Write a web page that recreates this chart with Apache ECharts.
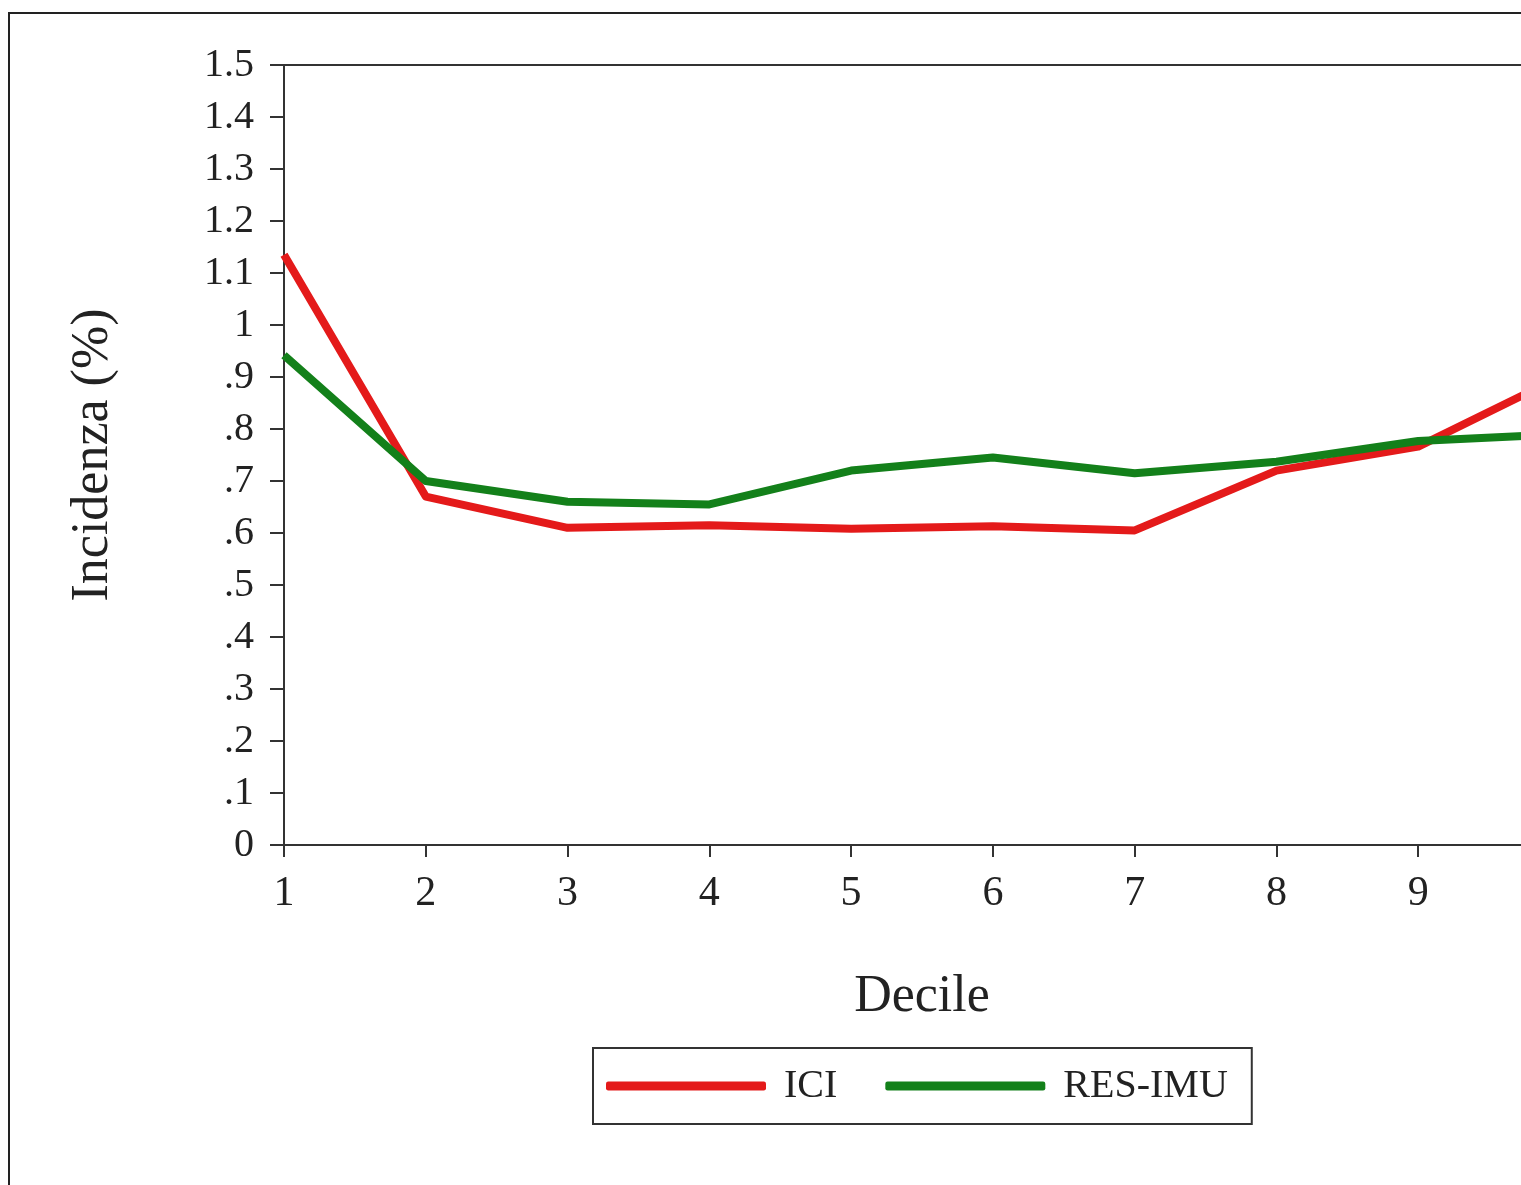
<!DOCTYPE html>
<html>
<head>
<meta charset="utf-8">
<script src="https://cdn.jsdelivr.net/npm/echarts@6/dist/echarts.min.js"></script>
<style>
html, body { margin: 0; padding: 0; background: #fff; overflow: hidden; }
#chart { width: 1600px; height: 1185px; }
</style>
</head>
<body>
<div id="chart"></div>
<script>
var deciles = [1, 2, 3, 4, 5, 6, 7, 8, 9, 10];
var ici = [1.135, 0.67, 0.61, 0.615, 0.608, 0.613, 0.605, 0.72, 0.766, 0.90];
var resImu = [0.942, 0.70, 0.66, 0.655, 0.72, 0.745, 0.715, 0.737, 0.777, 0.79];

var font = 'Liberation Serif';
var ink = '#222';

function pairs(ys) {
	return deciles.map(function (d, i) { return [d, ys[i]]; });
}

function yLabel(v) {
	var r = Math.round(v * 10) / 10;
	if (r === 0) return '0';
	if (r === 1) return '1';
	if (r < 1) return '.' + Math.round(r * 10);
	return r.toFixed(1);
}

// the plot runs past the window's right edge, as in the cropped original
var chart = echarts.init(document.getElementById('chart'));
var option = {
	backgroundColor: '#fff',
	animation: false,
	graphic: [{
		type: 'rect',
		shape: { x: 9, y: 13, width: 1700, height: 1400 },
		style: { fill: 'none', stroke: '#222', lineWidth: 2 },
		silent: true
	}],
	grid: {
		left: 284,
		top: 65,
		right: 40,
		bottom: 340,
		show: true,
		borderColor: '#333',
		borderWidth: 2
	},
	legend: {
		left: 593,
		top: 1048,
		padding: [18, 24, 18, 13],
		itemGap: 48,
		itemWidth: 160,
		itemHeight: 9,
		icon: 'roundRect',
		borderColor: '#333',
		borderWidth: 2,
		textStyle: {
			fontFamily: font,
			fontSize: 40,
			color: ink,
			padding: [0, 0, 0, 13]
		},
		data: ['ICI', 'RES-IMU']
	},
	xAxis: {
		type: 'value',
		min: 1,
		max: 10,
		interval: 1,
		name: 'Decile',
		nameLocation: 'middle',
		nameGap: 126,
		nameTextStyle: { fontFamily: font, fontSize: 52, color: ink },
		axisLine: { lineStyle: { color: '#333', width: 2 } },
		axisTick: { length: 12, lineStyle: { color: '#333', width: 2 } },
		axisLabel: { fontFamily: font, fontSize: 42, color: ink, margin: 28 },
		splitLine: { show: false }
	},
	yAxis: {
		type: 'value',
		min: 0,
		max: 1.5,
		interval: 0.1,
		name: 'Incidenza (%)',
		nameLocation: 'middle',
		nameGap: 165,
		nameTextStyle: { fontFamily: font, fontSize: 52, color: ink },
		axisLine: { lineStyle: { color: '#333', width: 2 } },
		axisTick: { length: 14, lineStyle: { color: '#333', width: 2 } },
		axisLabel: { fontFamily: font, fontSize: 40, color: ink, margin: 30, formatter: yLabel },
		splitLine: { show: false }
	},
	series: [{
		name: 'ICI',
		type: 'line',
		data: pairs(ici),
		showSymbol: false,
		symbol: 'none',
		color: '#e41a1a',
		lineStyle: { width: 8, color: '#e41a1a', join: 'round' }
	}, {
		name: 'RES-IMU',
		type: 'line',
		data: pairs(resImu),
		showSymbol: false,
		symbol: 'none',
		color: '#13801a',
		lineStyle: { width: 8, color: '#13801a', join: 'round' }
	}]
};
chart.setOption(option);
</script>
</body>
</html>
